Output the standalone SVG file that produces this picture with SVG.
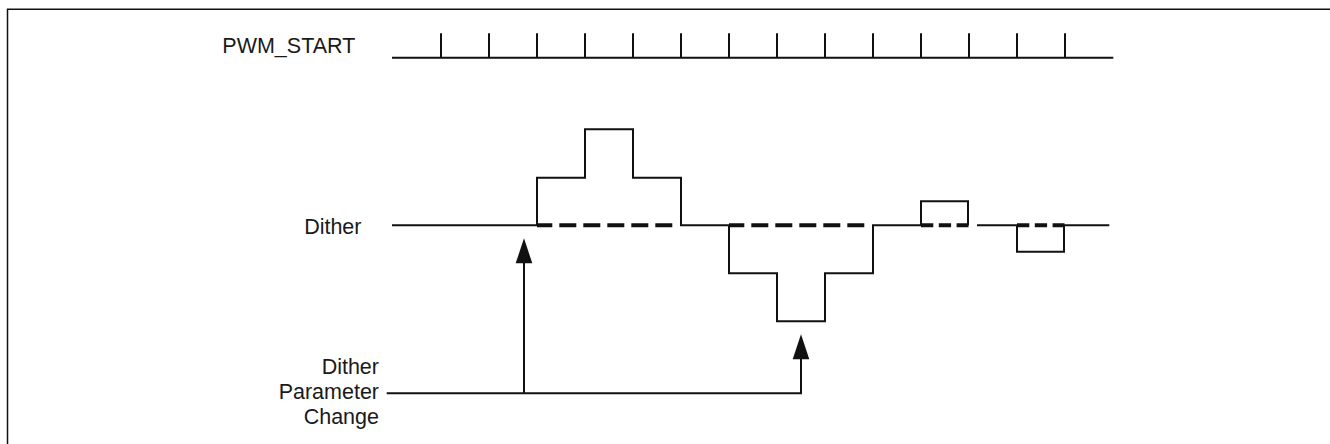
<svg xmlns="http://www.w3.org/2000/svg" width="1330" height="444" viewBox="0 0 1330 444">
<style>
.t{font-family:"Liberation Sans",Arial,sans-serif;font-size:21.5px;fill:#1a1a1a}
.s{fill:none;stroke:#111;stroke-width:2;stroke-linejoin:miter}
.d{fill:none;stroke:#111;stroke-width:4}
.d1{stroke-dasharray:17 7;stroke-dashoffset:1.7}
.d2{stroke-dasharray:12.3 5.5}
.h{fill:#111;stroke:none}
</style>
<rect width="1330" height="444" fill="#fff"/>
<path d="M7.5,444 V9.3 H1330" fill="none" stroke="#111" stroke-width="1.5"/>
<g id="pwm-start">
<text class="t" x="222.3" y="53.3">PWM_START</text>
<path class="s" d="M392,57.7 H1113.3 M441,57.7 V33.3 M489,57.7 V33.3 M537,57.7 V33.3 M585,57.7 V33.3 M633,57.7 V33.3 M681,57.7 V33.3 M729,57.7 V33.3 M777,57.7 V33.3 M825,57.7 V33.3 M873,57.7 V33.3 M921,57.7 V33.3 M969,57.7 V33.3 M1017,57.7 V33.3 M1065,57.7 V33.3"/>
</g>
<g id="dither">
<text class="t" x="361.5" y="233.5" text-anchor="end">Dither</text>
<path class="s" d="M392,225.3 H537 V177.7 H585 V129.3 H633 V177.7 H681 V225.3 H729 V273.3 H777 V321.3 H825 V273.3 H873 V225.3 H921 V201.3 H968 V225.3 M977,225.3 H1017 V251.7 H1064 V225.3 H1109.3"/>
<path class="d d1" d="M537,225.3 H673"/>
<path class="d d1" d="M729,225.3 H865"/>
<path class="d d2" d="M921,225.3 H968.5"/>
<path class="d d2" d="M1017,225.3 H1064.5"/>
</g>
<g id="param-change">
<text class="t" text-anchor="end"><tspan x="379" y="374.3">Dither</tspan><tspan x="379" y="399">Parameter</tspan><tspan x="379" y="423.5">Change</tspan></text>
</g>
<g id="connectors">
<path class="s" d="M386.7,393.3 H801 V358 M524,393.3 V262"/>
<polygon class="h" points="524,238.3 515.7,263.3 532.3,263.3"/>
<polygon class="h" points="801,334.3 792.7,359.3 809.3,359.3"/>
</g>
</svg>
